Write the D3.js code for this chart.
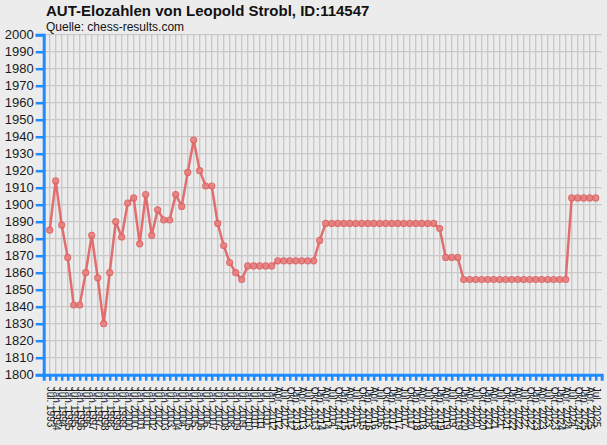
<!DOCTYPE html>
<html lang="de">
<head>
<meta charset="UTF-8">
<title>AUT-Elozahlen</title>
<script src="https://cdnjs.cloudflare.com/ajax/libs/d3/7.8.5/d3.min.js"></script>
<style>
  body { margin: 0; background: #ececec; }
  svg { display: block; font-family: "Liberation Sans", Arial, sans-serif; }
</style>
</head>
<body>
<div id="chart"></div>
<script>
var w = 607, h = 445;

// Ratinglisten (halbjährlich bis Jan. 2012, danach vierteljährlich)
var dates = [
  "Jul. 1993", "Jan. 1994", "Jul. 1994", "Jan. 1995", "Jul. 1995", "Jan. 1996", "Jul. 1996",
  "Jan. 1997", "Jul. 1997", "Jan. 1998", "Jul. 1998", "Jan. 1999", "Jul. 1999", "Jan. 2000",
  "Jul. 2000", "Jan. 2001", "Jul. 2001", "Jan. 2002", "Jul. 2002", "Jan. 2003", "Jul. 2003",
  "Jan. 2004", "Jul. 2004", "Jan. 2005", "Jul. 2005", "Jan. 2006", "Jul. 2006", "Jan. 2007",
  "Jul. 2007", "Jan. 2008", "Jul. 2008", "Jan. 2009", "Jul. 2009", "Jan. 2010", "Jul. 2010",
  "Jan. 2011", "Jul. 2011", "Jan. 2012",
  "Apr. 2012", "Jul. 2012", "Okt. 2012",
  "Jan. 2013", "Apr. 2013", "Jul. 2013", "Okt. 2013",
  "Jan. 2014", "Apr. 2014", "Jul. 2014", "Okt. 2014",
  "Jan. 2015", "Apr. 2015", "Jul. 2015", "Okt. 2015",
  "Jan. 2016", "Apr. 2016", "Jul. 2016", "Okt. 2016",
  "Jan. 2017", "Apr. 2017", "Jul. 2017", "Okt. 2017",
  "Jan. 2018", "Apr. 2018", "Jul. 2018", "Okt. 2018",
  "Jan. 2019", "Apr. 2019", "Jul. 2019", "Okt. 2019",
  "Jan. 2020", "Apr. 2020", "Jul. 2020", "Okt. 2020",
  "Jan. 2021", "Apr. 2021", "Jul. 2021", "Okt. 2021",
  "Jan. 2022", "Apr. 2022", "Jul. 2022", "Okt. 2022",
  "Jan. 2023", "Apr. 2023", "Jul. 2023", "Okt. 2023",
  "Jan. 2024", "Apr. 2024", "Jul. 2024", "Okt. 2024",
  "Jan. 2025", "Apr. 2025", "Jul. 2025"
];

var elo = [
  1885, 1914, 1888, 1869, 1841, 1841, 1860, 1882, 1857, 1830,
  1860, 1890, 1881, 1901, 1904, 1877, 1906, 1882, 1897, 1891,
  1891, 1906, 1899, 1919, 1938, 1920, 1911, 1911, 1889, 1876,
  1866, 1860, 1856, 1864, 1864, 1864, 1864, 1864, 1867, 1867,
  1867, 1867, 1867, 1867, 1867, 1879, 1889, 1889, 1889, 1889,
  1889, 1889, 1889, 1889, 1889, 1889, 1889, 1889, 1889, 1889,
  1889, 1889, 1889, 1889, 1889, 1886, 1869, 1869, 1869, 1856,
  1856, 1856, 1856, 1856, 1856, 1856, 1856, 1856, 1856, 1856,
  1856, 1856, 1856, 1856, 1856, 1856, 1856, 1904, 1904, 1904,
  1904, 1904
];

var yTicks = d3.range(1800, 2001, 10);

var blue = "#1e8cff";
var red = "#e06262";

var svg = d3.select("#chart").append("svg")
    .attr("width", w)
    .attr("height", h);

var x = d3.scaleLinear()
    .domain([-1, dates.length])
    .range([43.7, 601.7]);

var y = d3.scaleLinear()
    .domain([1800, 2000])
    .range([374.7, 34.7]);

// Gitter
svg.append("g").selectAll("line.v")
    .data(dates)
    .enter().append("line")
    .attr("x1", function(d, i) { return x(i); })
    .attr("x2", function(d, i) { return x(i); })
    .attr("y1", y(2000))
    .attr("y2", y(1800))
    .attr("stroke", "#c8c8c8")
    .attr("stroke-width", 1.3);

svg.append("g").selectAll("line.h")
    .data(yTicks)
    .enter().append("line")
    .attr("x1", x(-1))
    .attr("x2", x(dates.length))
    .attr("y1", function(d) { return y(d); })
    .attr("y2", function(d) { return y(d); })
    .attr("stroke", "#c8c8c8")
    .attr("stroke-width", 1.3);

// Achsen
var yAxis = svg.append("g")
    .attr("transform", "translate(" + x(-1) + ",0)")
    .call(d3.axisLeft(y).tickValues(yTicks).tickSize(8).tickPadding(2).tickFormat(d3.format("d")));

var xAxis = svg.append("g")
    .attr("transform", "translate(0," + y(1800) + ")")
    .call(d3.axisBottom(x).tickValues(d3.range(dates.length)).tickSize(6)
      .tickFormat(function(i) { return dates[i]; }));

[yAxis, xAxis].forEach(function(ax) {
  ax.select(".domain").attr("stroke", blue).attr("stroke-width", 3);
  ax.selectAll(".tick line").attr("stroke", blue).attr("stroke-width", 2.5);
  ax.selectAll(".tick text").attr("fill", "#1a1a1a").attr("font-family", "Liberation Sans, Arial, sans-serif");
});

yAxis.selectAll(".tick text").attr("font-size", "13px");

xAxis.selectAll(".tick text")
    .attr("font-size", "10px")
    .attr("text-anchor", "start")
    .attr("dy", "0.35em")
    .attr("transform", "translate(0,12) rotate(90)")
    .attr("x", 0)
    .attr("y", 0);

// Linie + Punkte
var line = d3.line()
    .x(function(d, i) { return x(i); })
    .y(function(d) { return y(d); });

svg.append("path")
    .datum(elo)
    .attr("d", line)
    .attr("fill", "none")
    .attr("stroke", red)
    .attr("stroke-width", 2.5)
    .attr("stroke-opacity", 0.9);

svg.selectAll("circle")
    .data(elo)
    .enter().append("circle")
    .attr("cx", function(d, i) { return x(i); })
    .attr("cy", function(d) { return y(d); })
    .attr("r", 3)
    .attr("fill", "#e48484")
    .attr("stroke", red)
    .attr("stroke-width", 1.2)
    .attr("opacity", 0.9);

// Titel
svg.append("text")
    .attr("x", 46)
    .attr("y", 16)
    .attr("font-size", "15px")
    .attr("font-weight", "bold")
    .attr("fill", "#111")
    .text("AUT-Elozahlen von Leopold Strobl, ID:114547");

svg.append("text")
    .attr("x", 46)
    .attr("y", 31)
    .attr("font-size", "12px")
    .attr("fill", "#111")
    .text("Quelle: chess-results.com");
</script>
</body>
</html>
